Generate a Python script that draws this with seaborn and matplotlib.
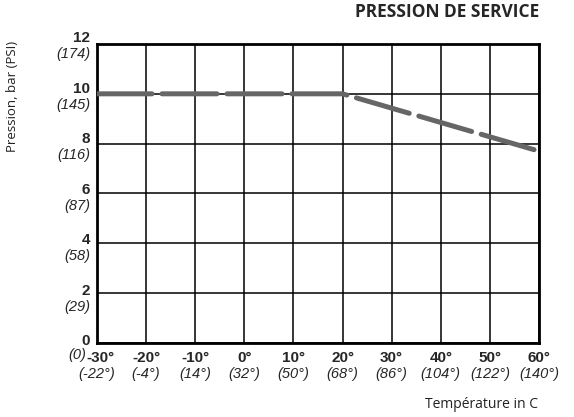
import matplotlib
matplotlib.use("Agg")
import matplotlib.pyplot as plt
import matplotlib.transforms as mtransforms
import seaborn as sns
import pandas as pd

# data
temp_c = [-30, 20, 60]
pressure_bar = [10, 10, 7.7]

x_ticks = [-30, -20, -10, 0, 10, 20, 30, 40, 50, 60]
x_ticks_f = ["-22°", "-4°", "14°", "32°", "50°", "68°", "86°", "104°", "122°", "140°"]
y_ticks = [0, 2, 4, 6, 8, 10, 12]
y_ticks_psi = ["0", "29", "58", "87", "116", "145", "174"]

df = pd.DataFrame({"temp": temp_c, "pressure": pressure_bar})

sns.set_style("white")
tick_font = ["Liberation Sans", "DejaVu Sans"]
label_font = ["Open Sans", "DejaVu Sans"]

fig = plt.figure(figsize=(5.74, 4.17), dpi=100)
ax = fig.add_axes([0.169, 0.1775, 0.770, 0.717])

sns.lineplot(data=df, x="temp", y="pressure", ax=ax, color="#666666",
             lw=3.6, dashes=False, zorder=3)
ax.lines[0].set_dashes([11.0, 2.0])
ax.lines[0].set_dash_capstyle("round")

ax.set_xlim(-30, 60)
ax.set_ylim(0, 12)
ax.set_xticks(x_ticks)
ax.set_yticks(y_ticks)
ax.set_xticklabels([])
ax.set_yticklabels([])
ax.tick_params(length=0)
ax.grid(True, color="black", lw=1.1)
for s in ax.spines.values():
    s.set_color("black")
    s.set_linewidth(2)
ax.set_xlabel("")
ax.set_ylabel("")

# two-line tick labels: bold metric, italic imperial
ytr = mtransforms.blended_transform_factory(ax.transAxes, ax.transData)
yoff = mtransforms.offset_copy
for v, psi in zip(y_ticks, y_ticks_psi):
    up = 1.5 + 4.5 * v / 12
    t1 = yoff(ytr, fig=fig, x=-7, y=up, units="dots")
    ax.text(0, v, str(v), transform=t1, ha="right", va="center",
            fontsize=11, fontweight="bold", family=tick_font)
    if v > 0:
        t2 = yoff(ytr, fig=fig, x=-7, y=up - 16, units="dots")
    else:
        t2 = yoff(ytr, fig=fig, x=-11, y=-12, units="dots")
    ax.text(0, v, f"({psi})", transform=t2, ha="right", va="center",
            fontsize=10.5, fontstyle="italic", family=tick_font)

xtr = mtransforms.blended_transform_factory(ax.transData, ax.transAxes)
for v, f in zip(x_ticks, x_ticks_f):
    dx = 3 if v == -30 else 0
    t1 = yoff(xtr, fig=fig, x=dx, y=-15, units="dots")
    ax.text(v, 0, f"{v}°", transform=t1, ha="center", va="center",
            fontsize=11, fontweight="bold", family=tick_font)
    t2 = yoff(xtr, fig=fig, x=0, y=-31, units="dots")
    ax.text(v, 0, f"({f})", transform=t2, ha="center", va="center",
            fontsize=10.5, fontstyle="italic", family=tick_font)

fig.text(539 / 574, 1 - 12 / 417, "PRESSION DE SERVICE", ha="right", va="center",
         fontsize=12.5, fontweight="bold", family=label_font)
fig.text(13 / 574, 1 - 96 / 417, "Pression, bar (PSI)", rotation=90,
         ha="center", va="center", fontsize=9.5, family=label_font, color="#222222")
fig.text(538 / 574, 1 - 405 / 417, "Température in C", ha="right", va="center",
         fontsize=10, family=label_font, color="#222222")

fig.savefig("out.png", dpi=100)
